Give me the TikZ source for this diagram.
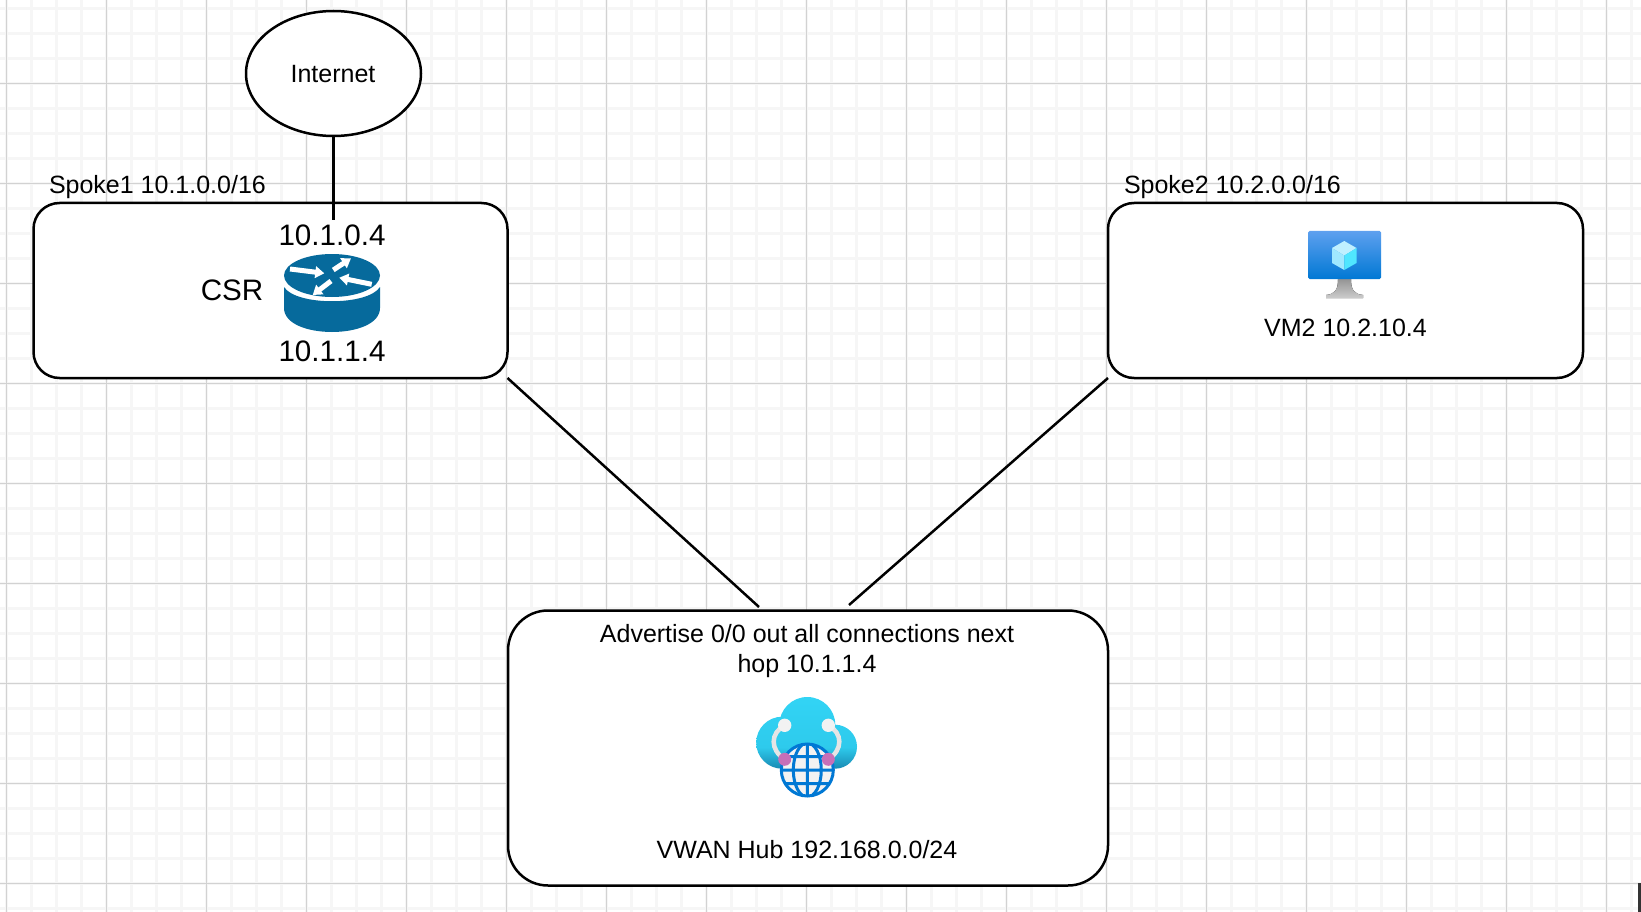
\documentclass[tikz,border=0pt]{standalone}
\usepackage{fontspec}
\setmainfont{Liberation Sans}
\usetikzlibrary{arrows.meta,shapes.geometric}
\definecolor{gridmajor}{HTML}{D2D2D2}
\definecolor{gridminor}{HTML}{F6F6F6}
\definecolor{routerblue}{HTML}{066A9C}
\definecolor{globeblue}{HTML}{0078D4}
\definecolor{cloudtop}{HTML}{32D4F5}
\definecolor{cloudmid}{HTML}{2ECAEC}
\definecolor{cloudlow}{HTML}{198AB3}
\pgfdeclareverticalshading{cloudfade}{100bp}{color(0bp)=(cloudlow); color(25bp)=(cloudlow); color(40bp)=(cloudmid); color(75bp)=(cloudtop); color(100bp)=(cloudtop)}
\tikzset{
	linkline/.style={line width=2.5, color=black},
	netbox/.style={draw=black, fill=white, line width=2.5, outer sep=0, inner sep=0},
	lbl/.style={font=\fontsize{25}{30}\selectfont, inner sep=0, outer sep=0},
	biglbl/.style={font=\fontsize{29.6}{36}\selectfont, inner sep=0, outer sep=0},
	routerarrow/.style={white, line width=5, -{Triangle[length=9, width=11.5]}},
}

\begin{document}
\begin{tikzpicture}[x=1pt, y=-1pt]
			%%%%% GRID %%%%%
			\fill[white] (0, 0) rectangle (1641, 912);
			\useasboundingbox (0, 0) rectangle (1641, 912);
			
			\foreach \gx in {0,...,65} \draw[gridminor, line width=2.5] ({6.5+25*\gx}, 0) -- ({6.5+25*\gx}, 912);
			\foreach \gy in {0,...,36} \draw[gridminor, line width=2.5] (0, {8.5+25*\gy}) -- (1641, {8.5+25*\gy});
			\foreach \gx in {0,...,16} \draw[gridmajor, line width=1.5] ({6.5+100*\gx}, 0) -- ({6.5+100*\gx}, 912);
			\foreach \gy in {0,...,8} \draw[gridmajor, line width=1.5] (0, {83.5+100*\gy}) -- (1641, {83.5+100*\gy});
			
			%%%%% BOXES %%%%%
			\node[netbox, ellipse, minimum width=175, minimum height=125] (internet) at (333.5, 73.5) {};
			\node[netbox, rectangle, rounded corners=26, minimum width=474, minimum height=175] (spoke1) at (270.5, 290.5) {};
			\node[netbox, rectangle, rounded corners=26, minimum width=475, minimum height=175] (spoke2) at (1345.5, 290.5) {};
			\node[netbox, rectangle, rounded corners=40, minimum width=600, minimum height=275] (hub) at (808, 748) {};
			
			%%%%% LINKS %%%%%
			\coordinate (wanend) at (333.5, 220);
			\coordinate (hubleft) at (759, 607);
			\coordinate (hubright) at (849, 605);
			\draw[linkline] (internet.south) -- (wanend);
			\draw[linkline] (spoke1.south east) -- (hubleft);
			\draw[linkline] (spoke2.south west) -- (hubright);
			
			%%%%% TEXT %%%%%
			\node[lbl] (internettext) at (333, 74) {Internet};
			\node[lbl, anchor=west] (spoke1text) at (49, 187) {Spoke1 10.1.0.0/16};
			\node[lbl, anchor=west] (spoke2text) at (1124, 187) {Spoke2 10.2.0.0/16};
			\node[biglbl] (wanip) at (332, 235) {10.1.0.4};
			\node[biglbl] (lanip) at (332, 351) {10.1.1.4};
			\node[biglbl] (csrtext) at (232, 290) {CSR};
			\node[lbl] (vmtext) at (1345.5, 327.5) {VM2 10.2.10.4};
			\node[lbl] (advert1) at (807, 634) {Advertise 0/0 out all connections next};
			\node[lbl] (advert2) at (807, 666) {hop 10.1.1.4};
			\node[lbl] (hubtext) at (807, 850) {VWAN Hub 192.168.0.0/24};
			
			%%%%% ROUTER %%%%%
			\fill[routerblue] (284, 287) .. controls (296, 306) and (368, 306) .. (380, 287) -- (380, 308)
				.. controls (380, 340) and (284, 340) .. (284, 308) -- cycle;
			\fill[routerblue] (332, 275.5) circle[x radius=48, y radius=21.5];
			\draw[routerarrow] (290, 269) -- (324.3, 273.3);
			\draw[routerarrow] (333.3, 270) -- (351, 258.3);
			\draw[routerarrow] (371.7, 284.3) -- (339.3, 277.7);
			\draw[routerarrow] (331, 281) -- (312.7, 295);
			
			%%%%% VM %%%%%
			\fill[top color=black!42, bottom color=black!20] (1338, 279) -- (1351, 279) .. controls (1351, 290) and (1354, 294) .. (1363, 295)
				-- (1363, 298) -- (1326, 298) -- (1326, 295) .. controls (1335, 294) and (1338, 290) .. (1338, 279) -- cycle;
			\shade[rounded corners=1.5, top color={rgb,255:red,94;green,160;blue,239}, bottom color=globeblue] (1308, 231) rectangle (1381, 279);
			\fill[fill={rgb,255:red,192;green,240;blue,255}] (1344.3, 241) -- (1356.5, 248) -- (1344.3, 255.5) -- (1332, 248) -- cycle;
			\fill[fill={rgb,255:red,160;green,232;blue,255}] (1332, 248) -- (1344.3, 255.5) -- (1344.3, 270) -- (1332, 263) -- cycle;
			\fill[fill={rgb,255:red,80;green,230;blue,255}] (1356.5, 248) -- (1344.3, 255.5) -- (1344.3, 270) -- (1356.5, 263) -- cycle;
			
			%%%%% VWAN %%%%%
			\shade[shading=cloudfade] (807.3, 725) circle (28) (782.2, 742.7) circle (26) (835, 746.7) circle (22);
			\draw[black!10, line width=4.5] (784.7, 725.3) .. controls (770, 733) and (770, 750) .. (784.7, 759.3);
			\draw[black!10, line width=4.5] (828.3, 725.3) .. controls (843, 733) and (843, 750) .. (828.3, 759.3);
			\fill[black!5] (784.7, 725.3) circle (6.7) (828.3, 725.3) circle (6.7);
			\fill[fill={rgb,255:red,242;green,242;blue,242}] (807.3, 770) circle (27);
			\begin{scope}
				\clip (807.3, 770) circle (27);
				\draw[globeblue, line width=3] (780, 756.5) -- (835, 756.5) (780, 770) -- (835, 770) (780, 783.5) -- (835, 783.5)
					(807.3, 740) -- (807.3, 800) (807.3, 770) circle[x radius=14, y radius=27];
			\end{scope}
			\draw[globeblue, line width=3] (807.3, 770) circle (26);
			\fill[fill={rgb,255:red,199;green,111;blue,184}] (784.7, 759.3) circle (6.5) (828.3, 759.3) circle (6.5);
			
			\fill[black!80] (1638, 883) rectangle (1641, 912);
		\end{tikzpicture}
\end{document}
